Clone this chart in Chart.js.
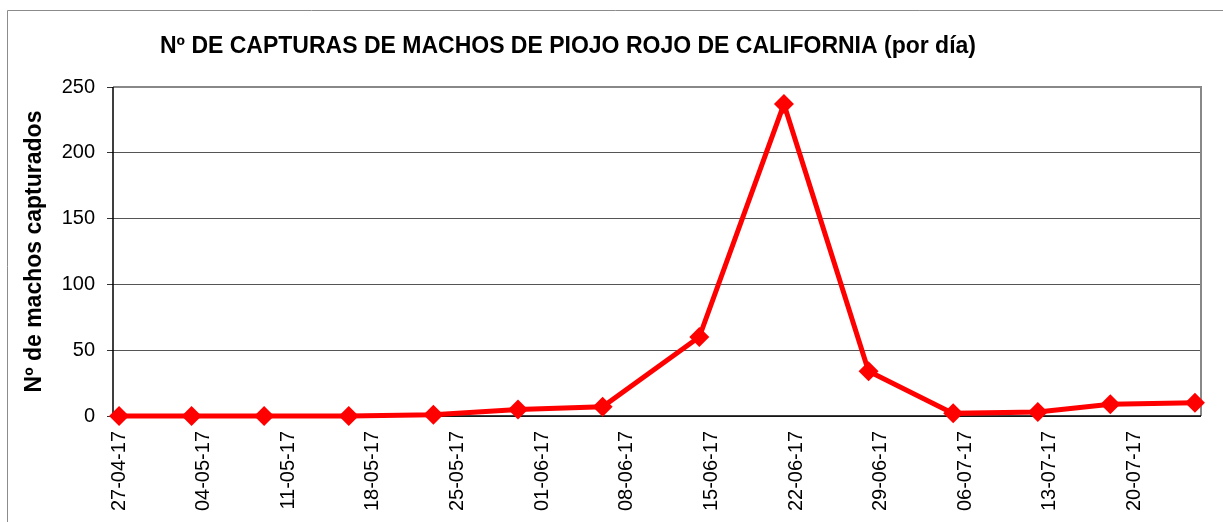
<!DOCTYPE html>
<html>
<head>
<meta charset="utf-8">
<script src="https://cdn.jsdelivr.net/npm/chart.js@4.4.1/dist/chart.umd.min.js"></script>
<style>
  html, body { margin: 0; padding: 0; background: #fff; }
  #wrap { position: relative; width: 1223px; height: 522px; }
  canvas { display: block; }
</style>
</head>
<body>
<div id="wrap"><canvas id="c" width="1223" height="522"></canvas></div>
<script>
// ---- data ----
const chartTitle = 'Nº DE CAPTURAS DE MACHOS DE PIOJO ROJO DE CALIFORNIA (por día)';
const yAxisTitle = 'Nº de machos capturados';
const sampleDates = ['27-04-17','03-05-17','09-05-17','16-05-17','23-05-17','30-05-17','06-06-17',
                     '14-06-17','21-06-17','28-06-17','05-07-17','12-07-17','18-07-17','25-07-17'];
const captures    = [0, 0, 0, 0, 1, 5, 7, 60, 237, 34, 2, 3, 9, 10];
const xTickLabels = ['27-04-17','04-05-17','11-05-17','18-05-17','25-05-17','01-06-17','08-06-17',
                     '15-06-17','22-06-17','29-06-17','06-07-17','13-07-17','20-07-17'];
const yTicks      = [0, 50, 100, 150, 200, 250];

// ---- helpers ----
function toDay(s) {
  const [d, m, y] = s.split('-').map(Number);
  return Date.UTC(2000 + y, m - 1, d) / 86400000;
}
const day0 = toDay(sampleDates[0]);
const lastDay = toDay(sampleDates[sampleDates.length - 1]) - day0;
const points = sampleDates.map((s, i) => ({ x: toDay(s) - day0, y: captures[i] }));
const xTickDays = xTickLabels.map(s => toDay(s) - day0);
const labelByDay = {};
xTickLabels.forEach((s, i) => { labelByDay[xTickDays[i]] = s; });

const FONT = '"Liberation Sans", Arial, sans-serif';

const framePlugin = {
  id: 'frame',
  beforeDraw(chart) {
    const ctx = chart.ctx;
    ctx.save();
    ctx.strokeStyle = '#8c8c8c';
    ctx.lineWidth = 1;
    ctx.beginPath();
    ctx.moveTo(7.5, chart.height);
    ctx.lineTo(7.5, 10.5);
    ctx.lineTo(chart.width, 10.5);
    ctx.stroke();
    ctx.restore();
  },
  beforeDatasetsDraw(chart) {
    const ctx = chart.ctx, a = chart.chartArea;
    ctx.save();
    ctx.strokeStyle = '#888888';
    ctx.lineWidth = 2;
    ctx.beginPath();
    ctx.moveTo(a.left, a.top);
    ctx.lineTo(a.right, a.top);
    ctx.lineTo(a.right, a.bottom);
    ctx.stroke();
    ctx.strokeStyle = '#000';
    ctx.lineWidth = 1.5;
    ctx.beginPath();
    ctx.moveTo(a.left, a.top);
    ctx.lineTo(a.left, a.bottom);
    ctx.lineTo(a.right, a.bottom);
    ctx.stroke();
    // title
    ctx.fillStyle = '#000';
    ctx.font = 'bold 23px ' + FONT;
    ctx.textAlign = 'center';
    ctx.textBaseline = 'alphabetic';
    ctx.fillText(chartTitle, 568, 53);
    ctx.restore();
  }
};

new Chart(document.getElementById('c'), {
  type: 'line',
  data: {
    datasets: [{
      data: points,
      borderColor: '#ff0000',
      backgroundColor: '#ff0000',
      borderWidth: 5,
      pointStyle: 'rectRot',
      pointRadius: 10,
      pointBorderWidth: 0,
      pointHoverRadius: 10,
      tension: 0,
      clip: false
    }]
  },
  options: {
    responsive: false,
    animation: false,
    events: [],
    layout: { padding: { left: 0, top: 87, right: 22, bottom: 0 } },
    plugins: { legend: { display: false }, title: { display: false }, tooltip: { enabled: false } },
    scales: {
      x: {
        type: 'linear',
        min: -0.5,
        max: lastDay + 0.5,
        afterBuildTicks(scale) { scale.ticks = xTickDays.map(v => ({ value: v })); },
        afterFit(scale) { scale.height = 106; },
        grid: { display: false, drawTicks: false },
        border: { display: false },
        ticks: {
          autoSkip: false,
          maxRotation: 90,
          minRotation: 90,
          padding: 15,
          color: '#000',
          font: { family: FONT, size: 20 },
          callback: v => labelByDay[v] || ''
        }
      },
      y: {
        min: 0,
        max: 250,
        afterBuildTicks(scale) { scale.ticks = yTicks.map(v => ({ value: v })); },
        afterFit(scale) { scale.width = 113; },
        grid: { color: '#555555', lineWidth: 1, tickLength: 6, tickColor: '#333' },
        border: { display: false },
        ticks: {
          padding: 12,
          color: '#000',
          font: { family: FONT, size: 20 }
        },
        title: {
          display: true,
          text: yAxisTitle,
          color: '#000',
          font: { family: FONT, size: 23, weight: 'bold', lineHeight: 1.2 },
          padding: { top: 21, bottom: 0 }
        }
      }
    }
  },
  plugins: [framePlugin]
});
</script>
</body>
</html>
